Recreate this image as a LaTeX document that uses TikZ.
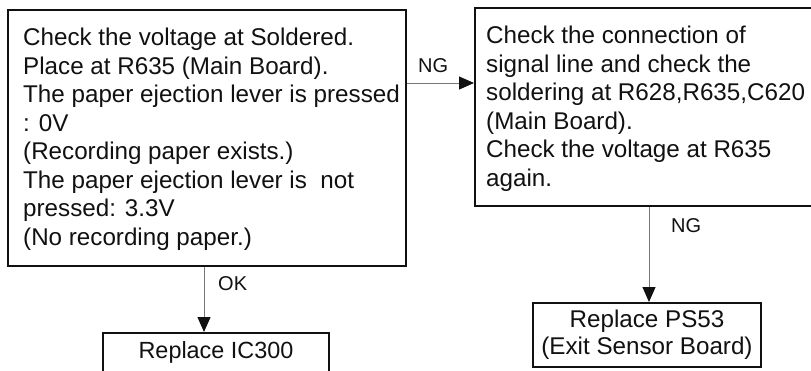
\documentclass[tikz,border=0pt]{standalone}
\usepackage{fontspec}
\setmainfont{Liberation Sans}
\usetikzlibrary{arrows.meta}
\definecolor{ink}{HTML}{111111}
\definecolor{wire}{HTML}{777777}
\tikzset{
  boxline/.style={draw=ink, line width=2pt, inner sep=0pt, rectangle},
  bodytext/.style={inner sep=0pt, align=left, anchor=north west, text=ink,
    font=\fontsize{24.2}{28.5}\selectfont},
  lbl/.style={inner sep=0pt, text=ink, font=\fontsize{20}{24}\selectfont},
  arr/.style={draw=wire, line width=1pt, -{Triangle[width=13pt,length=15pt,color=ink]}},
}
\begin{document}
\begin{tikzpicture}[x=1pt,y=-1pt]
\useasboundingbox (0,0) rectangle (811,370);
\fill[white] (0,0) rectangle (811,370);
% boxes
\node[boxline, minimum width=398pt, minimum height=256pt] (A) at (207,138) {};
\node[boxline, minimum width=340pt, minimum height=198pt] (B) at (645,107) {};
\node[boxline, minimum width=226pt, minimum height=39pt, text=ink,
      font=\fontsize{23.4}{28}\selectfont] (C) at (216,352.5) {Replace IC300};
\node[boxline, minimum width=228pt, minimum height=64pt, align=center, text=ink,
      font=\fontsize{24.2}{27}\selectfont] (D) at (647,335) {Replace PS53\\(Exit Sensor Board)};
% texts
\node[bodytext] (At) at (23,28) {Check the voltage at Soldered.\\
Place at R635 (Main Board).\\
The paper ejection lever is pressed\\
: 0V\\
(Recording paper exists.)\\
The paper ejection lever is\ \ not\\
pressed: 3.3V\\
(No recording paper.)};
\node[bodytext] (Bt) at (486,26) {Check the connection of\\
signal line and check the\\
soldering at R628,R635,C620\\
(Main Board).\\
Check the voltage at R635\\
again.};
% connectors
\draw[arr] ([yshift=55pt]A.east) -- ([yshift=55pt]A.east -| B.west);
\draw[arr] ([xshift=-3pt]A.south) -- ([xshift=-3pt]A.south |- C.north);
\draw[arr] ([xshift=2pt]D.north |- B.south) -- ([xshift=2pt]D.north);
% labels
\node[lbl, anchor=base west] (l1) at (418,72) {NG};
\node[lbl, anchor=base west] (l2) at (218,290) {OK};
\node[lbl, anchor=base west] (l3) at (671,232) {NG};
\end{tikzpicture}
\end{document}
